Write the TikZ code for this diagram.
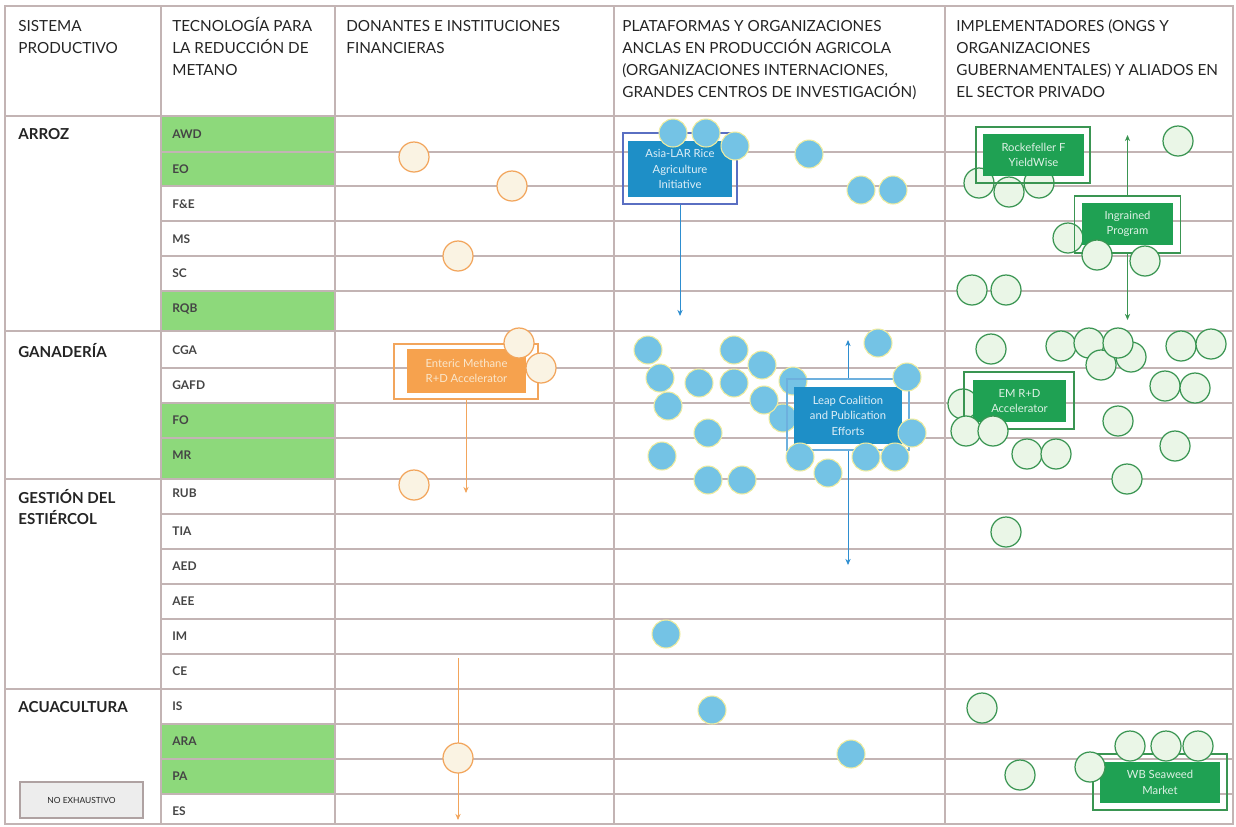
\documentclass[tikz,border=0pt]{standalone}
\usepackage{fontspec}
\setmainfont{Lato}
\usepackage{tikz}
\usetikzlibrary{arrows.meta}

\definecolor{gridc}{HTML}{C3B4B4}
\definecolor{txt}{HTML}{242424}
\definecolor{techgreen}{HTML}{8DD97B}
\definecolor{orline}{HTML}{F2A55C}
\definecolor{orfill}{HTML}{FAF3E3}
\definecolor{orbox}{HTML}{F6A24E}
\definecolor{bldotc}{HTML}{74C3E5}
\definecolor{blrim}{HTML}{EFEC9E}
\definecolor{blbox}{HTML}{1E8FC7}
\definecolor{blframe}{HTML}{5A6FC2}
\definecolor{blline}{HTML}{2E8ED0}
\definecolor{grline}{HTML}{3A9552}
\definecolor{grfill}{HTML}{EAF6E7}
\definecolor{grbox}{HTML}{1FA153}

\begin{document}
\begin{tikzpicture}[
        x=0.2mm, y=-0.2mm,
        >={Stealth[length=3.5pt,width=3pt]}
    ]
    \tikzstyle{hd}=[anchor=north west,align=left,inner sep=0pt,text=txt,font=\fontsize{8.7}{12.5}\selectfont];
    \tikzstyle{sec}=[anchor=north west,align=left,inner sep=0pt,text=txt,font=\fontsize{8.6}{12}\selectfont\bfseries];
    \tikzstyle{tec}=[anchor=base west,inner sep=0pt,text=txt!85,font=\fontsize{6.8}{8}\selectfont\bfseries];
    \tikzstyle{orgdot}=[circle,draw=orline,fill=orfill,line width=0.7pt,minimum size=6mm,inner sep=0pt];
    \tikzstyle{bludot}=[circle,draw=blrim,fill=bldotc,line width=0.6pt,minimum size=5.6mm,inner sep=0pt];
    \tikzstyle{grndot}=[circle,draw=grline,fill=grfill,line width=0.7pt,minimum size=6mm,inner sep=0pt];
    \tikzstyle{frame}=[draw,line width=0.6pt,inner sep=0pt];
    \tikzstyle{boxtxt}=[align=center,inner sep=0pt,text=white,text opacity=0.85,font=\fontsize{6.4}{8.8}\selectfont];
    \useasboundingbox (0,0) rectangle (1236,826);

    % green technology cells
    \fill[techgreen] (161,116) rectangle (335,186);
    \fill[techgreen] (161,291) rectangle (335,331);
    \fill[techgreen] (161,403) rectangle (335,479);
    \fill[techgreen] (161,724) rectangle (335,794);

    % table lines
    \draw[gridc,line width=0.6pt] (5,6) rectangle (1233,824);
    \draw[gridc,line width=0.6pt] (161,6) -- (161,824) (335,6) -- (335,824)
        (614,6) -- (614,824) (945,6) -- (945,824);
    \draw[gridc,line width=0.6pt] (5,116) -- (1233,116) (5,331) -- (1233,331)
        (5,479) -- (1233,479) (5,689) -- (1233,689);
    \draw[gridc,line width=0.6pt] (161,152) -- (1233,152) (161,186) -- (1233,186)
        (161,221) -- (1233,221) (161,256) -- (1233,256) (161,291) -- (1233,291)
        (161,368) -- (1233,368) (161,403) -- (1233,403) (161,438) -- (1233,438)
        (161,514) -- (1233,514) (161,549) -- (1233,549) (161,584) -- (1233,584)
        (161,619) -- (1233,619) (161,654) -- (1233,654) (161,724) -- (1233,724)
        (161,759) -- (1233,759) (161,794) -- (1233,794);

    % header
    \node[hd] (h1) at (18,17) {\vphantom{Í}SISTEMA\\PRODUCTIVO};
    \node[hd] (h2) at (172,17) {TECNOLOGÍA PARA\\LA REDUCCIÓN DE\\METANO};
    \node[hd] (h3) at (346,17) {\vphantom{Í}DONANTES E INSTITUCIONES\\FINANCIERAS};
    \node[hd] (h4) at (622,17) {\vphantom{Í}PLATAFORMAS Y ORGANIZACIONES\\ANCLAS EN PRODUCCIÓN AGRICOLA\\(ORGANIZACIONES INTERNACIONES,\\GRANDES CENTROS DE INVESTIGACIÓN)};
    \node[hd] (h5) at (956,17) {\vphantom{Í}IMPLEMENTADORES (ONGS Y\\ORGANIZACIONES\\GUBERNAMENTALES) Y ALIADOS EN\\EL SECTOR PRIVADO};

    % productive systems
    \node[sec] (arroz) at (18,128) {ARROZ};
    \node[sec] (ganaderia) at (18,343) {GANADERÍA};
    \node[sec] (estiercol) at (18,489) {GESTIÓN DEL\\ESTIÉRCOL};
    \node[sec] (acuacultura) at (18,701) {ACUACULTURA};

    % technologies
    \node[tec] (awd) at (172,138) {AWD};
    \node[tec] (eo) at (172,173) {EO};
    \node[tec] (fe) at (172,208) {F\&E};
    \node[tec] (ms) at (172,243) {MS};
    \node[tec] (sc) at (172,277) {SC};
    \node[tec] (rqb) at (172,312) {RQB};
    \node[tec] (cga) at (172,354) {CGA};
    \node[tec] (gafd) at (172,389) {GAFD};
    \node[tec] (fo) at (172,424) {FO};
    \node[tec] (mr) at (172,459) {MR};
    \node[tec] (rub) at (172,497) {RUB};
    \node[tec] (tia) at (172,535) {TIA};
    \node[tec] (aed) at (172,570) {AED};
    \node[tec] (aee) at (172,605) {AEE};
    \node[tec] (im) at (172,640) {IM};
    \node[tec] (ce) at (172,675) {CE};
    \node[tec] (is) at (172,710) {IS};
    \node[tec] (ara) at (172,745) {ARA};
    \node[tec] (pa) at (172,780) {PA};
    \node[tec] (es) at (172,815) {ES};

    \node[draw=gridc!90!black,fill=black!7,line width=0.6pt,minimum width=24.6mm,minimum height=7.2mm,
        inner sep=0pt,text=txt,font=\fontsize{4.8}{6}\selectfont] (noexh) at (81.5,800) {NO EXHAUSTIVO};

    % donors
    \node[frame,draw=orline,minimum width=28.8mm,minimum height=11mm] (entericF) at (466,371.5) {};
    \node[boxtxt,fill=orbox,minimum width=23.8mm,minimum height=8.8mm,text=orfill] (enteric) at (466.5,371) {Enteric Methane\\R+D Accelerator};
    \coordinate (entend) at (466,493);
    \draw[orline,line width=0.5pt,->] (entericF.south) -- (entend);
    \coordinate (cetop) at (458,658);
    \coordinate (esend) at (458,820);
    \draw[orline,line width=0.5pt,->] (cetop) -- (esend);
    \node[orgdot] (o1) at (414,157) {};
    \node[orgdot] (o2) at (512,186) {};
    \node[orgdot] (o3) at (458,256) {};
    \node[orgdot] (o4) at (519,343) {};
    \node[orgdot] (o5) at (541,368) {};
    \node[orgdot] (o6) at (414,485) {};
    \node[orgdot] (o7) at (458,758) {};

    % platforms
    \node[bludot] (b1) at (793,381) {};
    \node[bludot] (b2) at (783,418) {};
    \node[frame,draw=blline!70,minimum width=24.4mm,minimum height=14.2mm] (leapF) at (848,414.5) {};
    \node[boxtxt,fill=blbox,minimum width=21.6mm,minimum height=11.4mm] (leap) at (848,415.5) {Leap Coalition\\and Publication\\Efforts};
    \coordinate (leaptop) at (848,340);
    \coordinate (leapbot) at (848,565);
    \draw[blline,line width=0.5pt,->] (leapF.north) -- (leaptop);
    \draw[blline,line width=0.5pt,->] (leapF.south) -- (leapbot);
    \node[frame,draw=blframe,minimum width=22.8mm,minimum height=14.2mm] (asiaF) at (680,168.5) {};
    \node[boxtxt,fill=blbox,minimum width=20.8mm,minimum height=11.2mm] (asia) at (680,169) {Asia-LAR Rice\\Agriculture\\Initiative};
    \coordinate (asiaend) at (680,316);
    \draw[blline,line width=0.5pt,->] (asiaF.south) -- (asiaend);
    \node[bludot] (b3) at (673,133) {};
    \node[bludot] (b4) at (706,133) {};
    \node[bludot] (b5) at (735,146) {};
    \node[bludot] (b6) at (809,154) {};
    \node[bludot] (b7) at (861,190) {};
    \node[bludot] (b8) at (893,190) {};
    \node[bludot] (b9) at (648,350) {};
    \node[bludot] (b10) at (660,378) {};
    \node[bludot] (b11) at (668,406) {};
    \node[bludot] (b12) at (699,383) {};
    \node[bludot] (b13) at (734,350) {};
    \node[bludot] (b14) at (762,365) {};
    \node[bludot] (b15) at (734,383) {};
    \node[bludot] (b16) at (764,400) {};
    \node[bludot] (b17) at (708,433) {};
    \node[bludot] (b18) at (662,456) {};
    \node[bludot] (b19) at (708,480) {};
    \node[bludot] (b20) at (742,480) {};
    \node[bludot] (b21) at (800,457) {};
    \node[bludot] (b22) at (828,473) {};
    \node[bludot] (b23) at (866,457) {};
    \node[bludot] (b24) at (895,457) {};
    \node[bludot] (b25) at (878,343) {};
    \node[bludot] (b26) at (907,377) {};
    \node[bludot] (b27) at (912,433) {};
    \node[bludot] (b28) at (666,634) {};
    \node[bludot] (b29) at (712,710) {};
    \node[bludot] (b30) at (851,754) {};

    % implementers
    \node[grndot] (g1) at (979,183) {};
    \node[grndot] (g2) at (1009,192) {};
    \node[grndot] (g3) at (1039,183) {};
    \node[frame,draw=grline,minimum width=22.8mm,minimum height=11.2mm] (rockF) at (1033,155) {};
    \node[boxtxt,fill=grbox,minimum width=20.2mm,minimum height=8.4mm] (rock) at (1033.5,155) {Rockefeller F\\YieldWise};
    \node[grndot] (g4) at (1178,141) {};
    \node[grndot] (g5) at (1068,238) {};
    \node[frame,draw=grline,minimum width=21.2mm,minimum height=11.4mm] (ingF) at (1127.5,224.5) {};
    \node[boxtxt,fill=grbox,minimum width=18.2mm,minimum height=8.4mm] (ing) at (1127.5,224) {Ingrained\\Program};
    \coordinate (ingtop) at (1127.5,135);
    \coordinate (ingbot) at (1127.5,320);
    \draw[grline,line width=0.5pt,->] (ingF.north) -- (ingtop);
    \draw[grline,line width=0.5pt,->] (ingF.south) -- (ingbot);
    \node[grndot] (g6) at (1097,255) {};
    \node[grndot] (g7) at (1145,261) {};
    \node[grndot] (g8) at (972,290) {};
    \node[grndot] (g9) at (1006,290) {};
    \node[grndot] (g10) at (991,349) {};
    \node[grndot] (g11) at (1061,346) {};
    \node[grndot] (g12) at (1089,343) {};
    \node[grndot] (g13) at (1131,357) {};
    \node[grndot] (g14) at (1101,365) {};
    \node[grndot] (g15) at (1118,343) {};
    \node[grndot] (g16) at (1181,346) {};
    \node[grndot] (g17) at (1211,344) {};
    \node[grndot] (g18) at (1165,386) {};
    \node[grndot] (g19) at (1195,388) {};
    \node[grndot] (g20) at (963,404) {};
    \node[frame,draw=grline,minimum width=22mm,minimum height=11.4mm] (emF) at (1019,400.5) {};
    \node[boxtxt,fill=grbox,minimum width=18.6mm,minimum height=8.4mm] (em) at (1019.5,401) {EM R+D\\Accelerator};
    \node[grndot] (g21) at (966,431) {};
    \node[grndot] (g22) at (993,431) {};
    \node[grndot] (g23) at (1118,421) {};
    \node[grndot] (g24) at (1175,446) {};
    \node[grndot] (g25) at (1027,454) {};
    \node[grndot] (g26) at (1056,454) {};
    \node[grndot] (g27) at (1127,479) {};
    \node[grndot] (g28) at (1006,532) {};
    \node[grndot] (g29) at (982,708) {};
    \node[grndot] (g30) at (1020,775) {};
    \node[frame,draw=grline,minimum width=26.8mm,minimum height=11.2mm] (wbF) at (1160,782) {};
    \node[boxtxt,fill=grbox,minimum width=24mm,minimum height=8.2mm] (wb) at (1160,782.5) {WB Seaweed\\Market};
    \node[grndot] (g31) at (1090,767) {};
    \node[grndot] (g32) at (1130,746) {};
    \node[grndot] (g33) at (1166,746) {};
    \node[grndot] (g34) at (1198,746) {};
\end{tikzpicture}
\end{document}
